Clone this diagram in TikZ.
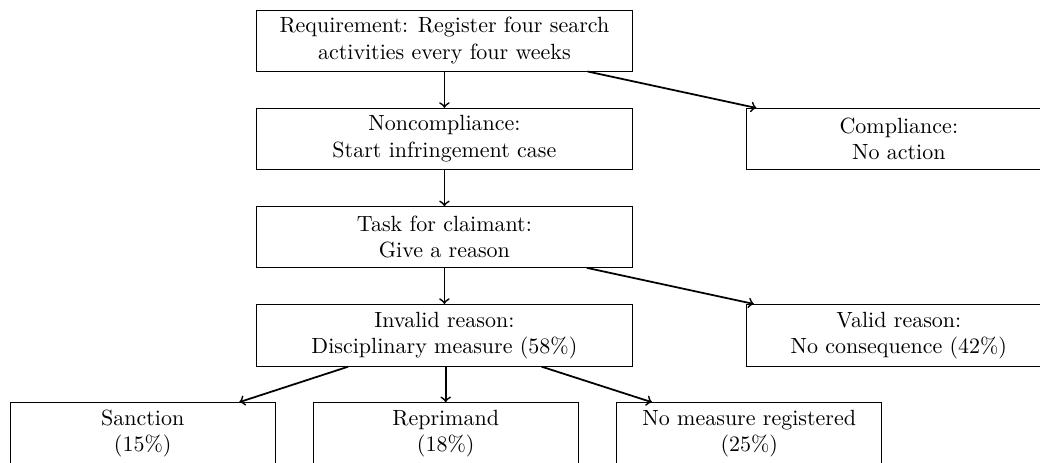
\documentclass[tikz,border=0pt]{standalone}
\usepackage{amsmath}
\usepackage{tikz}
\usepackage{xcolor}

\begin{document}
\begin{tikzpicture}[
  box/.style={draw, align=center, minimum width=6cm, minimum height=0.97cm},
  sidebox/.style={draw, align=center, minimum width=4.86cm, minimum height=0.97cm},
  lowbox/.style={draw, align=center, minimum width=4.23cm, minimum height=0.97cm},
  arr/.style={->, thick}]
\useasboundingbox (0,0) rectangle (16.615,-7.381);
\node[box] (req) at (7.1,-0.647) {Requirement: Register four search\\activities every four weeks};
\node[box] (noncomp) at (7.1,-2.217) {Noncompliance:\\Start infringement case};
\node[sidebox] (comp) at (14.36,-2.217) {Compliance:\\No action};
\node[box] (task) at (7.1,-3.787) {Task for claimant:\\Give a reason};
\node[box] (invalid) at (7.1,-5.357) {Invalid reason:\\Disciplinary measure (58\%)};
\node[sidebox] (valid) at (14.36,-5.357) {Valid reason:\\No consequence (42\%)};
\node[lowbox] (sanction) at (2.28,-6.927) {Sanction\\(15\%)};
\node[lowbox] (reprimand) at (7.12,-6.927) {Reprimand\\(18\%)};
\node[lowbox] (nomeasure) at (11.97,-6.927) {No measure registered\\(25\%)};
\draw[arr] (req) -- (noncomp);
\draw[arr] (req) -- (comp);
\draw[arr] (noncomp) -- (task);
\draw[arr] (task) -- (invalid);
\draw[arr] (task) -- (valid);
\draw[arr] (invalid) -- (sanction);
\draw[arr] (invalid.south -| reprimand) -- (reprimand);
\draw[arr] (invalid) -- (nomeasure);
\end{tikzpicture}
\end{document}
